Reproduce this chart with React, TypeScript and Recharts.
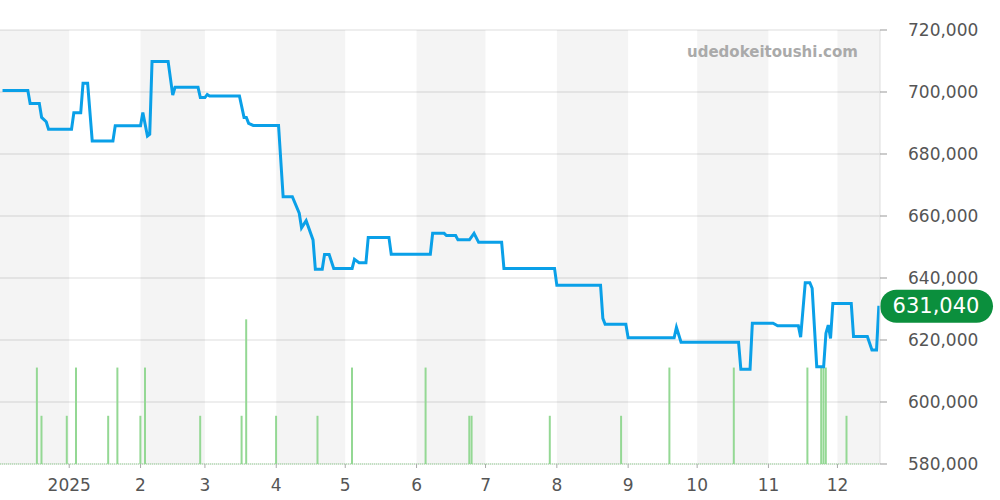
import { ComposedChart, Line, Bar, XAxis, YAxis, CartesianGrid, ReferenceArea, ReferenceLine } from 'recharts';

// days counted from 2025-01-01
const priceDays = [
  -29, -18, -17, -13, -12, -10, -9, 1, 2, 5, 6, 8, 10, 19, 20, 31, 32, 34, 35, 36,
  43, 45, 46, 56, 57, 59, 60, 61, 74, 76, 77, 78, 80, 91, 93, 97, 100, 101, 103, 106,
  107, 110, 111, 113, 115, 123, 124, 126, 129, 130, 139, 140, 157, 158, 163, 164, 168, 169, 174, 176,
  178, 188, 189, 211, 212, 231, 232, 233, 242, 243, 263, 264, 266, 291, 292, 296, 297, 306, 308, 317,
  318, 320, 322, 323, 325, 328, 329, 330, 331, 332, 340, 341, 347, 349, 351, 352,
];
const prices = [
  700500, 700500, 696300, 696300, 691800, 690400, 688000, 688000, 693300, 693300, 702800, 702800, 684200, 684200, 689100, 689100, 693400, 685800, 686400, 709800,
  709800, 699000, 701500, 701500, 698200, 698200, 699200, 698700, 698700, 691800, 691800, 689900, 689200, 689200, 666200, 666200, 660900, 656200, 658500, 652300,
  642800, 642800, 647600, 647600, 643100, 643100, 646000, 644900, 644900, 653100, 653100, 647700, 647700, 654400, 654400, 653700, 653700, 652300, 652300, 654400,
  651500, 651500, 643100, 643100, 637700, 637700, 627000, 625100, 625100, 620700, 620700, 624100, 619300, 619300, 610600, 610600, 625400, 625400, 624600, 624600,
  620900, 638500, 638500, 636700, 611400, 611400, 622200, 624800, 620500, 631800, 631800, 621100, 621100, 616800, 616800, 631040,
];

const salesDays = [-14, -12, -1, 3, 17, 21, 31, 33, 57, 75, 77, 90, 108, 123, 155, 174, 175, 209, 240, 261, 289, 321, 327, 328, 329, 338];
const salesCounts = [2, 1, 1, 2, 1, 2, 1, 2, 1, 1, 3, 1, 1, 2, 2, 1, 1, 1, 1, 2, 2, 2, 2, 2, 2, 1];

const monthTicks = [0, 31, 59, 90, 120, 151, 181, 212, 243, 273, 304, 334];
const monthLabels = ['2025', '2', '3', '4', '5', '6', '7', '8', '9', '10', '11', '12'];
const shadedMonths = [[-30.1, 0], [31, 59], [90, 120], [151, 181], [212, 243], [273, 304], [334, 352.5]];
const priceTicks = [580000, 600000, 620000, 640000, 660000, 680000, 700000, 720000];

const lastPrice = prices[prices.length - 1];

const allDays = Array.from(new Set([...priceDays, ...salesDays])).sort((a, b) => a - b);
const data = allDays.map((day) => {
  const pi = priceDays.indexOf(day);
  const si = salesDays.indexOf(day);
  return {
    day,
    price: pi >= 0 ? prices[pi] : undefined,
    sales: si >= 0 ? salesCounts[si] : undefined,
  };
});

const fmt = (v: number) => v.toLocaleString('en-US');

const PriceTag = (props: any) => {
  const vb = props.viewBox || {};
  const x = (vb.x || 0) + (vb.width || 0);
  const y = vb.y || 0;
  return (
    <g>
      <rect x={x} y={y - 16} width={113} height={33} rx={16.5} fill="#0b8f3d" />
      <text x={x + 56} y={y + 1} fill="#fff" fontSize={21} textAnchor="middle" dominantBaseline="middle">
        {fmt(lastPrice)}
      </text>
    </g>
  );
};

export default function App() {
  return (
    <div style={{ position: 'relative', width: 1000, height: 500, fontFamily: '"DejaVu Sans", sans-serif', background: '#fff' }}>
      <style>{'body{margin:0}'}</style>
      <ComposedChart width={1000} height={500} data={data} margin={{ top: 30, right: 0, bottom: 6, left: 0 }}>
        {shadedMonths.map(([a, b]) => (
          <ReferenceArea key={a} yAxisId="price" x1={a} x2={b} fill="#000" fillOpacity={0.043} stroke="none" ifOverflow="hidden" />
        ))}
        <CartesianGrid yAxisId="price" vertical={false} stroke="#dddddd" />
        <XAxis
          dataKey="day"
          type="number"
          domain={[-30.1, 352.5]}
          allowDataOverflow
          ticks={monthTicks}
          interval={0}
          tickFormatter={(v: number) => monthLabels[monthTicks.indexOf(v)]}
          axisLine={false}
          tickLine={{ stroke: '#aaa' }}
          tickSize={4}
          tickMargin={11}
          tick={{ fill: '#555', fontSize: 17 }}
        />
        <YAxis
          yAxisId="price"
          orientation="right"
          width={120}
          domain={[580000, 720000]}
          ticks={priceTicks}
          interval={0}
          tickFormatter={fmt}
          axisLine={{ stroke: '#dddddd' }}
          tickLine={{ stroke: '#999' }}
          tickSize={7}
          tickMargin={21}
          tick={{ fill: '#555', fontSize: 17 }}
        />
        <YAxis yAxisId="sales" hide domain={[0, 9]} />
        <ReferenceLine yAxisId="sales" y={0} stroke="#94d894" strokeDasharray="1 1" />
        <Bar yAxisId="sales" dataKey="sales" fill="#94d894" barSize={2} isAnimationActive={false} />
        <Line
          yAxisId="price"
          type="linear"
          dataKey="price"
          stroke="#0aa0e8"
          strokeWidth={3}
          dot={false}
          activeDot={false}
          connectNulls
          isAnimationActive={false}
        />
        <ReferenceLine yAxisId="price" y={lastPrice} stroke="none" label={<PriceTag />} />
      </ComposedChart>
      <div style={{ position: 'absolute', left: 687, top: 43, fontSize: 15, fontWeight: 'bold', color: '#aaa', lineHeight: '18px' }}>
        udedokeitoushi.com
      </div>
    </div>
  );
}
